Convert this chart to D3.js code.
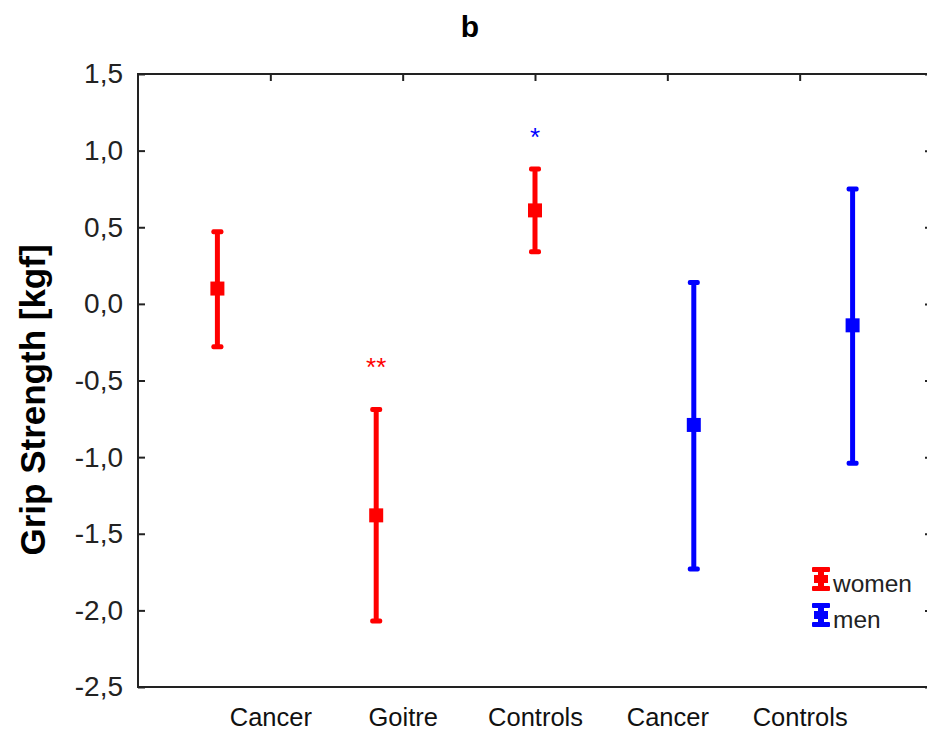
<!DOCTYPE html>
<html>
<head>
<meta charset="utf-8">
<script src="https://cdn.jsdelivr.net/npm/d3@7"></script>
<style>
  html, body { margin: 0; padding: 0; background: #fff; }
  svg { display: block; }
  text { font-family: "Liberation Sans", Arial, sans-serif; }
</style>
</head>
<body>
<svg id="chart" width="927" height="730"></svg>
<script>
// ---- data ----
const categories = ["Cancer", "Goitre", "Controls", "Cancer", "Controls"];
const groups     = ["women", "women", "women", "men", "men"];
const means      = [0.10, -1.38, 0.61, -0.79, -0.14];
const lowers     = [-0.28, -2.07, 0.34, -1.73, -1.04];
const uppers     = [0.47, -0.69, 0.88, 0.14, 0.75];
const yTickValues = [-2.5, -2.0, -1.5, -1.0, -0.5, 0.0, 0.5, 1.0, 1.5];
const yTickLabels = ["-2,5", "-2,0", "-1,5", "-1,0", "-0,5", "0,0", "0,5", "1,0", "1,5"];
const legendLabels = ["women", "men"];
const annotations = [ { index: 1, text: "**", group: "women", value: -0.38 },
                      { index: 2, text: "*",  group: "men",   value: 1.12 } ];

const colors = { women: "#ff0000", men: "#0000ff" };

const svg = d3.select("#chart");
const pL = 138, pR = 932, pT = 74, pB = 687;

const y = d3.scaleLinear().domain([-2.5, 1.5]).range([pB, pT]);
const xBand = d3.scaleBand().domain(d3.range(categories.length)).range([pL, pR]);
const xLabel = d3.scalePoint().domain(d3.range(categories.length)).range([pL, pR]).padding(1);

// title
svg.append("text").attr("x", 470).attr("y", 37).attr("text-anchor", "middle")
  .attr("font-size", 30).attr("font-weight", "bold").attr("fill", "#000").text("b");

// y axis title
svg.append("text").attr("transform", "translate(45,400) rotate(-90)")
  .attr("text-anchor", "middle").attr("font-size", 35).attr("font-weight", "bold")
  .attr("fill", "#000").text("Grip Strength [kgf]");

// frame
svg.append("rect").attr("x", pL).attr("y", pT).attr("width", pR - pL).attr("height", pB - pT)
  .attr("fill", "none").attr("stroke", "#222").attr("stroke-width", 2);

// left axis (ticks inward)
const leftAxis = d3.axisLeft(y).tickValues(yTickValues)
  .tickFormat((d, i) => yTickLabels[i]).tickSizeInner(-7).tickSizeOuter(0).tickPadding(15);
const gl = svg.append("g").attr("transform", `translate(${pL},0)`).call(leftAxis);
gl.select(".domain").remove();
gl.selectAll("line").attr("stroke", "#222").attr("stroke-width", 2);
gl.selectAll("text").attr("font-size", 28).attr("fill", "#222")
  .attr("font-family", "Liberation Sans, Arial, sans-serif");

// right axis ticks inward
const rightAxis = d3.axisRight(y).tickValues(yTickValues).tickFormat("").tickSizeInner(-7).tickSizeOuter(0);
const gr = svg.append("g").attr("transform", `translate(${pR},0)`).call(rightAxis);
gr.select(".domain").remove();
gr.selectAll("line").attr("stroke", "#222").attr("stroke-width", 2);

// top axis ticks downward at label positions
const topAxis = d3.axisTop(xLabel).tickFormat("").tickSizeInner(-7).tickSizeOuter(0);
const gt = svg.append("g").attr("transform", `translate(0,${pT})`).call(topAxis);
gt.select(".domain").remove();
gt.selectAll("line").attr("stroke", "#222").attr("stroke-width", 2);

// bottom labels
const bottomAxis = d3.axisBottom(xLabel).tickFormat(i => categories[i]).tickSize(0).tickPadding(21);
const gb = svg.append("g").attr("transform", `translate(0,${pB})`).call(bottomAxis);
gb.select(".domain").remove();
gb.selectAll("text").attr("font-size", 25.5).attr("fill", "#111")
  .attr("font-family", "Liberation Sans, Arial, sans-serif");

// error bars
const capW = 12, capH = 5, stemW = 5, sq = 14;
const data = categories.map((c, i) => ({ i, c, g: groups[i], m: means[i], lo: lowers[i], hi: uppers[i] }));
const bars = svg.append("g").selectAll("g").data(data).join("g")
  .attr("transform", d => `translate(${xBand(d.i) + xBand.bandwidth() / 2},0)`);
bars.append("line").attr("x1", 0).attr("x2", 0)
  .attr("y1", d => y(d.hi)).attr("y2", d => y(d.lo))
  .attr("stroke", d => colors[d.g]).attr("stroke-width", stemW);
bars.append("rect").attr("x", -capW / 2).attr("y", d => y(d.hi) - capH / 2)
  .attr("width", capW).attr("height", capH).attr("rx", 2).attr("fill", d => colors[d.g]);
bars.append("rect").attr("x", -capW / 2).attr("y", d => y(d.lo) - capH / 2)
  .attr("width", capW).attr("height", capH).attr("rx", 2).attr("fill", d => colors[d.g]);
bars.append("rect").attr("x", -sq / 2).attr("y", d => y(d.m) - sq / 2)
  .attr("width", sq).attr("height", sq).attr("fill", d => colors[d.g]);

// annotations
svg.append("g").selectAll("text").data(annotations).join("text")
  .attr("x", d => xBand(d.index) + xBand.bandwidth() / 2)
  .attr("y", d => y(d.value) + 14)
  .attr("text-anchor", "middle").attr("font-size", 26)
  .attr("fill", d => colors[d.group]).text(d => d.text);

// legend
const legend = svg.append("g").selectAll("g").data(legendLabels).join("g")
  .attr("transform", (d, i) => `translate(821,${579 + i * 36})`);
legend.append("rect").attr("x", -3).attr("y", -11).attr("width", 6).attr("height", 22).attr("fill", d => colors[d]);
legend.append("rect").attr("x", -9).attr("y", -12).attr("width", 18).attr("height", 5).attr("rx", 1).attr("fill", d => colors[d]);
legend.append("rect").attr("x", -9).attr("y", 7).attr("width", 18).attr("height", 5).attr("rx", 1).attr("fill", d => colors[d]);
legend.append("rect").attr("x", -7).attr("y", -4).attr("width", 14).attr("height", 8).attr("fill", d => colors[d]);
legend.append("text").attr("x", 12).attr("y", 13).attr("font-size", 24.5).attr("fill", "#222").text(d => d);
</script>
</body>
</html>
